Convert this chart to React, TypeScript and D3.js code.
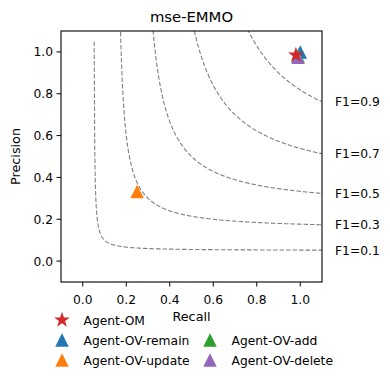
import React from "react";
import * as d3 from "d3";

const seriesNames = ["Agent-OM", "Agent-OV-remain", "Agent-OV-update", "Agent-OV-add", "Agent-OV-delete"];
const seriesRecall = [0.98, 1.0, 0.25, 0.99, 0.99];
const seriesPrecision = [0.985, 1.0, 0.333, 0.98, 0.975];
const seriesColors = ["#d62728", "#1f77b4", "#ff7f0e", "#2ca02c", "#9467bd"];
const seriesMarkers = ["star", "tri", "tri", "tri", "tri"];
const drawOrder = [1, 2, 3, 4, 0];

const f1Levels = [0.1, 0.3, 0.5, 0.7, 0.9];
const tickValues = [0.0, 0.2, 0.4, 0.6, 0.8, 1.0];

const W = 390, H = 381;
const L = 61, R = 322, T = 31, B = 282;
const FONT = "DejaVu Sans, sans-serif";

const x = d3.scaleLinear().domain([-0.1, 1.1]).range([L, R]);
const y = d3.scaleLinear().domain([-0.1, 1.1]).range([B, T]);

const recallGrid = d3.range(0.01, 1.1001, 0.0025);

function starPath(r: number) {
  const pts: [number, number][] = [];
  const inner = r * 0.381966;
  for (let i = 0; i < 10; i++) {
    const a = (Math.PI / 5) * i;
    const rr = i % 2 === 0 ? r : inner;
    pts.push([rr * Math.sin(a), -rr * Math.cos(a)]);
  }
  return "M" + pts.map((p) => p.join(",")).join("L") + "Z";
}
function triPath(s: number) {
  const h = s / 2;
  return `M0,${-h}L${-h},${h}L${h},${h}Z`;
}
function markerPath(m: string) {
  return m === "star" ? starPath(8.3) : triPath(13.5);
}

export default function App() {
  const line = d3
    .line<[number, number]>()
    .x((d) => x(d[0]))
    .y((d) => y(d[1]));

  const legendPos = [
    [0, 0],
    [0, 1],
    [0, 2],
    [1, 1],
    [1, 2],
  ];
  const colX = [62, 210];
  const rowY = [320, 340, 360];

  return (
    <svg width={W} height={H} style={{ position: "absolute", left: 0, top: 0 }} fontFamily={FONT}>
      <rect x={0} y={0} width={W} height={H} fill="#fff" />
      <defs>
        <clipPath id="ax">
          <rect x={L} y={T} width={R - L} height={B - T} />
        </clipPath>
      </defs>
      <g clipPath="url(#ax)">
        {f1Levels.map((f) => {
          const pts: [number, number][] = recallGrid
            .map((r) => [r, (f * r) / (2 * r - f)] as [number, number])
            .filter((p) => isFinite(p[1]) && p[1] >= 0 && p[1] <= 3);
          return (
            <path
              key={f}
              d={line(pts) || ""}
              fill="none"
              stroke="#808080"
              strokeWidth={1.1}
              strokeDasharray="4.5,2"
            />
          );
        })}
      </g>
      {f1Levels.map((f) => {
        const r = 1.1;
        const p = (f * r) / (2 * r - f);
        return (
          <text key={f} x={335} y={y(p) + 4.5} fontSize={12.3} fill="#000">
            F1={f.toFixed(1)}
          </text>
        );
      })}
      {drawOrder.map((i) => (
        <path
          key={i}
          d={markerPath(seriesMarkers[i])}
          transform={`translate(${x(seriesRecall[i])},${y(seriesPrecision[i])})`}
          fill={seriesColors[i]}
        />
      ))}
      <rect x={L} y={T} width={R - L} height={B - T} fill="none" stroke="#000" strokeWidth={1.1} />
      {tickValues.map((t) => (
        <g key={"x" + t}>
          <line x1={x(t)} x2={x(t)} y1={B} y2={B + 4.5} stroke="#000" strokeWidth={1} />
          <text x={x(t)} y={B + 21.5} fontSize={12.3} textAnchor="middle">
            {t.toFixed(1)}
          </text>
        </g>
      ))}
      {tickValues.map((t) => (
        <g key={"y" + t}>
          <line x1={L - 4.5} x2={L} y1={y(t)} y2={y(t)} stroke="#000" strokeWidth={1} />
          <text x={L - 8} y={y(t) + 4.5} fontSize={12.3} textAnchor="end">
            {t.toFixed(1)}
          </text>
        </g>
      ))}
      <text x={(L + R) / 2} y={22} fontSize={14.8} textAnchor="middle">
        mse-EMMO
      </text>
      <text x={(L + R) / 2} y={321} fontSize={12.8} textAnchor="middle">
        Recall
      </text>
      <text transform={`translate(20,${(T + B) / 2}) rotate(-90)`} fontSize={12.8} textAnchor="middle">
        Precision
      </text>
      {seriesNames.map((n, i) => {
        const [c, r] = legendPos[i];
        return (
          <g key={n}>
            <path d={markerPath(seriesMarkers[i])} transform={`translate(${colX[c]},${rowY[r]})`} fill={seriesColors[i]} />
            <text x={colX[c] + 21.5} y={rowY[r] + 4.5} fontSize={12.3}>
              {n}
            </text>
          </g>
        );
      })}
    </svg>
  );
}
